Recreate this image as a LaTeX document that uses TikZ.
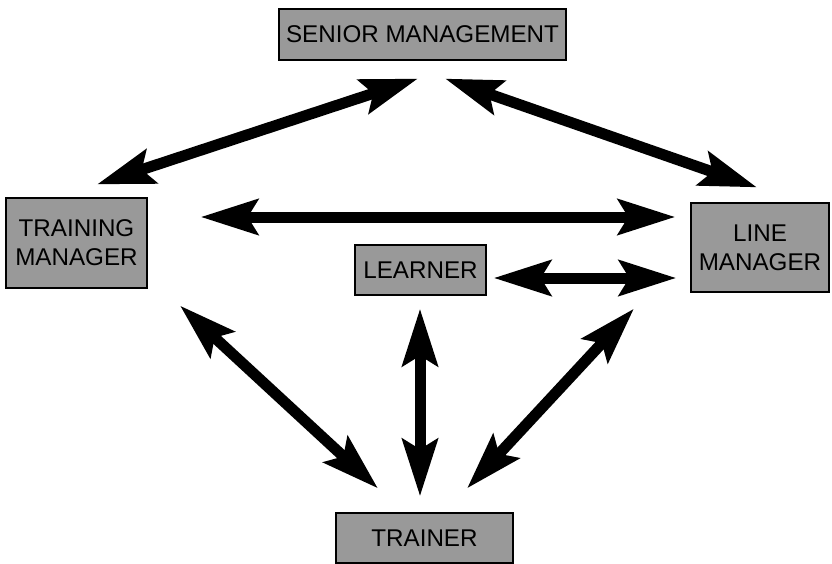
\documentclass[tikz,border=0pt]{standalone}
\usepackage{fontspec}
\setmainfont{Liberation Sans}
\usetikzlibrary{arrows.meta}
\begin{document}
\begin{tikzpicture}[x=1pt,y=1pt,
  box/.style={draw=black, line width=1.2pt, fill=black!40, inner sep=0pt,
    align=center, font=\fontsize{24.2}{29}\selectfont},
  link/.style={line width=11pt, black,
    {Stealth[length=57pt,width=35pt,inset=10pt]}-{Stealth[length=57pt,width=35pt,inset=10pt]}}]
\useasboundingbox (0,0) rectangle (832,-564);

% roles
\node[box, minimum width=287pt, minimum height=51pt] (sm) at (422.5,-34.5) {SENIOR MANAGEMENT};
\node[box, minimum width=141pt, minimum height=90pt] (tm) at (76.5,-243) {TRAINING\\MANAGER};
\node[box, minimum width=138pt, minimum height=89pt] (lm) at (760,-247.5) {LINE\\MANAGER};
\node[box, minimum width=131pt, minimum height=50pt] (le) at (420.5,-270) {LEARNER};
\node[box, minimum width=177pt, minimum height=50pt] (tr) at (424.5,-538) {TRAINER};

% two-way relationships
\draw[link] ([shift={(20.5,13)}]tm.north) -- ([shift={(-4.5,-18)}]sm.south);
\draw[link] ([shift={(22.5,-18)}]sm.south) -- ([shift={(-3,15)}]lm.north);
\draw[link] ([shift={(53,26)}]tm.east) -- ([shift={(-15,30.5)}]lm.west);
\draw[link] ([shift={(7,-8)}]le.east) -- ([shift={(-14,-30.5)}]lm.west);
\draw[link] ([shift={(103.5,-17)}]tm.south) -- ([shift={(-46.5,24)}]tr.north);
\draw[link] ([shift={(-0.5,-13)}]le.south) -- ([shift={(-4.5,16)}]tr.north);
\draw[link] ([shift={(-126,-16)}]lm.south) -- ([shift={(42.5,24)}]tr.north);
\end{tikzpicture}
\end{document}
